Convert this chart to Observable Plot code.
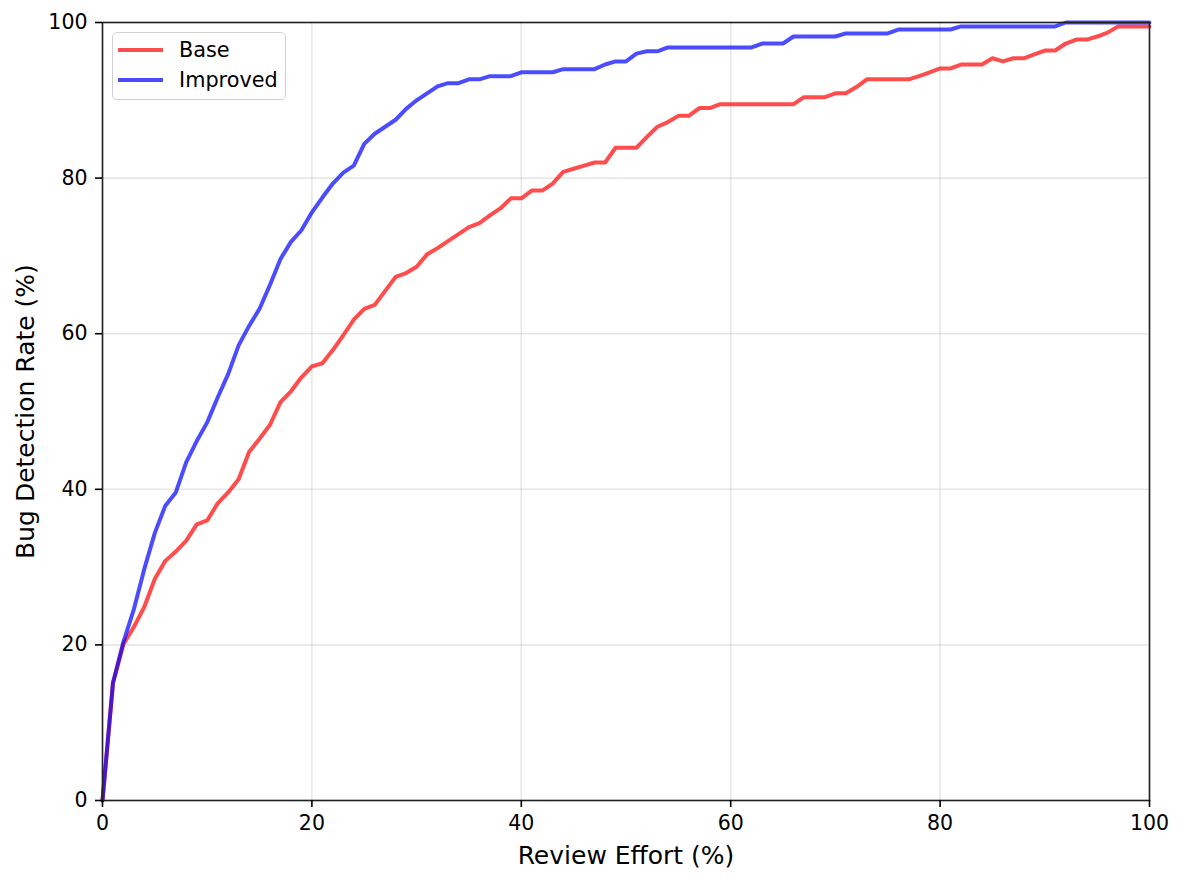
<!DOCTYPE html>
<html>
<head>
<meta charset="utf-8">
<script src="https://cdn.jsdelivr.net/npm/d3@7"></script>
<script src="https://cdn.jsdelivr.net/npm/@observablehq/plot@0.6"></script>
<style>
  body { margin: 0; background: #fff; font-family: "DejaVu Sans", sans-serif; }
  #wrap { position: relative; width: 1184px; height: 882px; }
  #legend { position: absolute; left: 112px; top: 32px; width: 172px; height: 66px;
    border: 1.5px solid #d0d0d0; border-radius: 5px; background: rgba(255,255,255,0.8);
    font-family: "DejaVu Sans", sans-serif; font-size: 20.8px; color: #000; }
  .item { position: absolute; left: 5px; height: 24px; display: flex; align-items: center; white-space: nowrap; }
  .swatch { width: 45px; height: 4px; margin-right: 16px; }
</style>
</head>
<body>
<div id="wrap">
  <div id="chart"></div>
  <div id="legend">
    <div class="item" style="top:5px"><div class="swatch" style="background:rgba(255,0,0,0.7)"></div>Base</div>
    <div class="item" style="top:35px"><div class="swatch" style="background:rgba(0,0,255,0.7)"></div>Improved</div>
  </div>
</div>
<script>
const effort = d3.range(0, 101);
const baseRate = [
  0, 15.1, 20.1, 22.3, 24.9, 28.5, 30.8, 32.0, 33.4, 35.5,
  36.0, 38.2, 39.6, 41.3, 44.8, 46.5, 48.3, 51.2, 52.6, 54.4,
  55.8, 56.2, 57.9, 59.8, 61.8, 63.2, 63.7, 65.5, 67.3, 67.8,
  68.6, 70.2, 71.0, 71.9, 72.8, 73.7, 74.2, 75.2, 76.1, 77.4,
  77.4, 78.4, 78.4, 79.3, 80.8, 81.2, 81.6, 82.0, 82.0, 83.9,
  83.9, 83.9, 85.3, 86.6, 87.2, 88.0, 88.0, 89.0, 89.0, 89.5,
  89.5, 89.5, 89.5, 89.5, 89.5, 89.5, 89.5, 90.4, 90.4, 90.4,
  90.9, 90.9, 91.7, 92.7, 92.7, 92.7, 92.7, 92.7, 93.1, 93.6,
  94.1, 94.1, 94.6, 94.6, 94.6, 95.4, 95.0, 95.4, 95.4, 95.9,
  96.4, 96.4, 97.3, 97.8, 97.8, 98.2, 98.7, 99.5, 99.5, 99.5,
  99.5
];
const improvedRate = [
  0, 15.1, 20.4, 24.6, 29.8, 34.4, 37.9, 39.6, 43.5, 46.2,
  48.6, 51.8, 54.8, 58.5, 61.0, 63.2, 66.3, 69.6, 71.8, 73.3,
  75.6, 77.5, 79.3, 80.7, 81.6, 84.4, 85.7, 86.6, 87.5, 88.9,
  90.0, 90.9, 91.8, 92.2, 92.2, 92.7, 92.7, 93.1, 93.1, 93.1,
  93.6, 93.6, 93.6, 93.6, 94.0, 94.0, 94.0, 94.0, 94.6, 95.0,
  95.0, 96.0, 96.3, 96.3, 96.8, 96.8, 96.8, 96.8, 96.8, 96.8,
  96.8, 96.8, 96.8, 97.3, 97.3, 97.3, 98.2, 98.2, 98.2, 98.2,
  98.2, 98.6, 98.6, 98.6, 98.6, 98.6, 99.1, 99.1, 99.1, 99.1,
  99.1, 99.1, 99.5, 99.5, 99.5, 99.5, 99.5, 99.5, 99.5, 99.5,
  99.5, 99.5, 100, 100, 100, 100, 100, 100, 100, 100,
  100
];
const tickValues = [0, 20, 40, 60, 80, 100];
const xLabel = "Review Effort (%)";
const yLabel = "Bug Detection Rate (%)";

const baseData = effort.map((x, i) => ({x, y: baseRate[i]}));
const impData = effort.map((x, i) => ({x, y: improvedRate[i]}));

const chart = Plot.plot({
  width: 1184,
  height: 882,
  marginLeft: 102,
  marginRight: 35,
  marginTop: 22,
  marginBottom: 82,
  style: { fontFamily: "DejaVu Sans, sans-serif", fontSize: "20.5px", background: "white", color: "black" },
  x: { domain: [0, 100] },
  y: { domain: [0, 100] },
  marks: [
    Plot.gridX(tickValues, { stroke: "#b0b0b0", strokeOpacity: 0.3, strokeWidth: 1.6 }),
    Plot.gridY(tickValues, { stroke: "#b0b0b0", strokeOpacity: 0.3, strokeWidth: 1.6 }),
    Plot.line(baseData, { x: "x", y: "y", stroke: "red", strokeOpacity: 0.7, strokeWidth: 4 }),
    Plot.line(impData, { x: "x", y: "y", stroke: "blue", strokeOpacity: 0.7, strokeWidth: 4 }),
    Plot.frame({ stroke: "#222", strokeWidth: 1.6 }),
    Plot.axisX({ ticks: tickValues, tickSize: 7, tickPadding: 8, fontSize: 20.5, strokeWidth: 1.6, label: null }),
    Plot.axisY({ ticks: tickValues, tickSize: 7, tickPadding: 8, fontSize: 20.5, strokeWidth: 1.6, label: null }),
    Plot.text([xLabel], { text: d => d, frameAnchor: "bottom", dy: 55, fontSize: 25, lineAnchor: "middle", textAnchor: "middle", fill: "black" }),
    Plot.text([yLabel], { text: d => d, frameAnchor: "left", dx: -77, rotate: -90, fontSize: 25, lineAnchor: "middle", textAnchor: "middle", fill: "black" })
  ]
});
document.getElementById("chart").appendChild(chart);
</script>
</body>
</html>
